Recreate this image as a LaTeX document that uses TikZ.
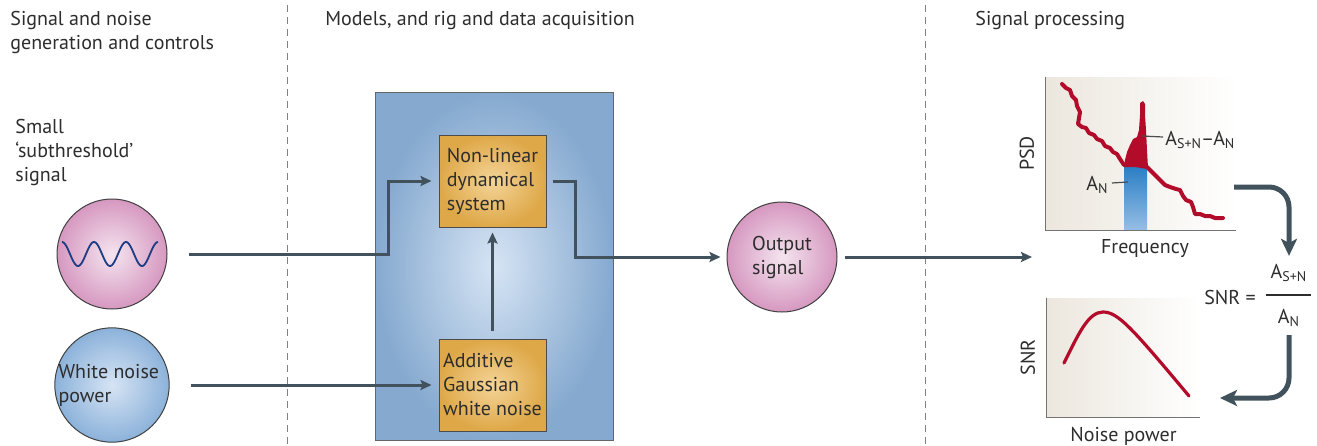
\documentclass[tikz,border=0pt]{standalone}
\usepackage{fontspec}
\setmainfont{PT Sans}
\usetikzlibrary{arrows.meta}

\definecolor{arrowgrey}{RGB}{66,82,92}
\definecolor{pinkout}{RGB}{214,152,192}
\definecolor{pinkin}{RGB}{244,228,239}
\definecolor{blueout}{RGB}{140,178,218}
\definecolor{bluein}{RGB}{214,228,244}
\definecolor{orangeout}{RGB}{222,168,72}
\definecolor{orangein}{RGB}{244,212,152}
\definecolor{plotbg}{RGB}{236,231,222}
\definecolor{curvered}{RGB}{178,12,42}
\definecolor{bartop}{RGB}{38,124,196}
\definecolor{barbot}{RGB}{150,190,228}
\definecolor{wavecol}{RGB}{30,60,130}
\definecolor{txt}{RGB}{45,45,45}

\begin{document}
\begin{tikzpicture}[x=0.5pt, y=-0.5pt,
  every node/.style={font=\fontsize{10}{12}\selectfont, text=txt, inner sep=0pt},
  divider/.style={draw=black!50, line width=0.5pt, dash pattern=on 3.5pt off 2.5pt},
  blob/.style={circle, draw=black!75, line width=0.5pt, minimum size=55pt},
  pinkblob/.style={blob, inner color=pinkin, outer color=pinkout},
  blueblob/.style={blob, inner color=bluein, outer color=blueout},
  stagebox/.style={draw=black!70, line width=0.5pt, inner color=orangein, outer color=orangeout,
    minimum width=53.5pt, minimum height=46pt, align=left},
  plotbox/.style={left color=plotbg, right color=white, minimum width=#1},
  axis/.style={draw=black!55, line width=0.6pt},
  flow/.style={draw=arrowgrey, line width=1.5pt, -{Stealth[length=5.5pt, width=5pt, inset=1pt]}},
  bigflow/.style={draw=arrowgrey, line width=2.5pt, rounded corners=10pt,
    -{Stealth[length=8.5pt, width=8pt, inset=2pt]}},
  tick/.style={draw=black!70, line width=0.6pt}]
  \useasboundingbox (0,0) rectangle (1317,445);

  % stage dividers
  \draw[divider] (287,5) -- (287,445);
  \draw[divider] (925,5) -- (925,445);

  % headings
  \node[anchor=north west, align=left] (head1) at (10,11) {Signal and noise\\generation and controls};
  \node[anchor=north west] (head2) at (325,11) {Models, and rig and data acquisition};
  \node[anchor=north west] (head3) at (975,11) {Signal processing};

  % inputs
  \node[anchor=north west, align=left] (siglbl) at (15,119) {Small\\‘subthreshold’\\signal};
  \node[pinkblob] (sig) at (112,254) {};
  \draw[wavecol, line width=0.9pt, shift={(sig.center)}]
    plot[domain=0:96, samples=90, smooth] ({\x-50}, {-12*cos(\x*11.25)});
  \node[blueblob, align=left] (noise) at (112,385) {White noise\\power\hspace*{27pt}};

  % model and rig
  \node[draw=black!60, line width=0.5pt, inner color=bluein, outer color=blueout!95!black,
    minimum width=119pt, minimum height=174pt] (model) at (494,266) {};
  \node[stagebox] (nls) at (492.5,181) {Non-linear\\dynamical\\system};
  \node[stagebox] (awgn) at (492.5,385) {Additive\\Gaussian\\white noise};
  \node[pinkblob, align=left] (out) at (782,257) {Output\\signal};

  \draw[flow, shorten <=10.5pt, shorten >=3.5pt] (sig.east) -- (388,254) |- (nls.west);
  \draw[flow, shorten <=10.5pt, shorten >=3.5pt] (noise.east) -- (awgn.west);
  \draw[flow, shorten <=4pt, shorten >=2.5pt] (awgn.north) -- (nls.south);
  \draw[flow, shorten <=3pt, shorten >=3pt] (nls.east) -- (575,181) |- (out.west);
  \coordinate (psdin) at (1032,257);
  \draw[flow, shorten <=3.5pt] (out.east) -- (psdin);

  % power spectral density
  \node[plotbox=95pt, minimum height=76.5pt] (psd) at (1141,153.5) {};
  \shade[top color=bartop, bottom color=barbot]
    (1124,166) .. controls (1135,164) .. (1147,168) -- (1147,230) -- (1124,230) -- cycle;
  \fill[curvered] (1124,166) -- (1125,160) -- (1127,152) -- (1130,145) -- (1133,139)
    -- (1137,137) -- (1139,130) -- (1140,115) -- (1140,103) -- (1143,101) -- (1145,104)
    -- (1145,115) -- (1146,130) -- (1147,150) -- (1148,168) .. controls (1138,164) .. (1124,166) -- cycle;
  \draw[curvered, line width=2pt, line join=round, line cap=round]
    (1062,84) -- (1066,88) -- (1070,90) -- (1072,96) -- (1076,100) -- (1077,106)
    -- (1080,112) -- (1079,118) -- (1078,124) -- (1082,127) -- (1086,128) -- (1089,133)
    -- (1094,135) -- (1097,139) -- (1102,141) -- (1105,146) -- (1110,148) -- (1113,152)
    -- (1117,154) -- (1120,159) -- (1124,165) -- (1135,165) -- (1147,167) -- (1150,170)
    -- (1155,175) -- (1160,180) -- (1165,185) -- (1170,187) -- (1176,189) -- (1180,190)
    -- (1183,196) -- (1186,200) -- (1191,202) -- (1193,207) -- (1195,214) -- (1200,214)
    -- (1205,216) -- (1210,216) -- (1215,218) -- (1223,218);
  \draw[axis] (psd.north west) -- (psd.south west) -- (psd.south east);
  \node[rotate=90, anchor=south] (psdlbl) at ([xshift=-5.5pt]psd.west) {PSD};
  \node[anchor=north] (freqlbl) at ([xshift=2pt, yshift=-4.5pt]psd.south) {Frequency};
  \node[anchor=east] (anlbl) at (1109,185) {A\textsubscript{N}};
  \coordinate (anpt) at (1128,182);
  \draw[tick] ([xshift=1.5pt, yshift=1pt]anlbl.east) -- (anpt);
  \node[anchor=west] (snlbl) at (1165,140) {A\textsubscript{S+N}\kern-0.5pt\textendash\kern-0.5pt A\textsubscript{N}};
  \coordinate (snpt) at (1142,136);
  \draw[tick] ([xshift=-1pt, yshift=1.5pt]snlbl.west) -- (snpt);

  % signal-to-noise ratio
  \node (snreq) at (1230,297) {SNR =};
  \node (num) at (1289,273) {A\textsubscript{S+N}};
  \node (den) at (1289,318) {A\textsubscript{N}};
  \draw[line width=0.6pt, draw=txt] (1266,295) -- (1311,295);
  \coordinate (psdout) at (1234,187);
  \draw[bigflow, shorten >=4pt] (psdout) -| (num.north);
  \node[plotbox=76.5pt, minimum height=59.5pt] (snr) at (1123.5,357.5) {};
  \draw[curvered, line width=1.6pt, line cap=round]
    (1064,363) .. controls (1078,335) and (1088,312) .. (1103,312)
    .. controls (1118,312) and (1132,328) .. (1189,396);
  \draw[axis] (snr.north west) -- (snr.south west) -- (snr.south east);
  \node[rotate=90, anchor=south] (snrlbl) at ([xshift=-5.5pt]snr.west) {SNR};
  \node[anchor=north] (noiselbl) at ([yshift=-4.5pt]snr.south) {Noise power};
  \coordinate (snrin) at (1220,398);
  \draw[bigflow, shorten <=4pt] (den.south) |- (snrin);
\end{tikzpicture}
\end{document}
